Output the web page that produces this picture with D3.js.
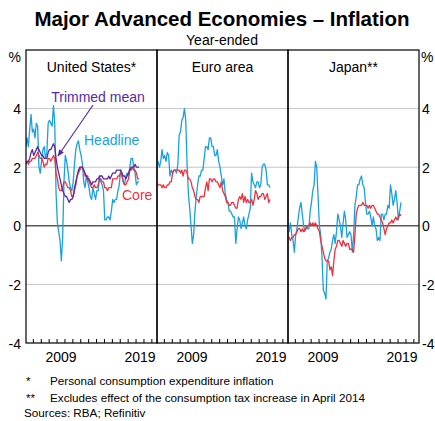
<!DOCTYPE html>
<html>
<head>
<meta charset="utf-8">
<script src="https://cdn.jsdelivr.net/npm/d3@7"></script>
<style>
  body { margin: 0; background: #fff; }
  svg text { font-family: Arial, "Liberation Sans", sans-serif; }
</style>
</head>
<body>
<svg id="chart" width="435" height="421"></svg>
<script>
// year-ended inflation, %, bimonthly obs (Jan, Mar, May, Jul, Sep, Nov), Jan 2005 - May 2019
var startYear = 2005;
var obsPerYear = 6;

var usHeadline = [
  2.7, 3.0, 2.7, 3.3, 3.8, 3.2,
  3.3, 3.0, 3.5, 3.4, 2.0, 1.8,
  2.2, 2.6, 2.7, 2.3, 2.5, 3.5,
  3.6, 3.5, 3.4, 4.1, 3.5, 1.1,
  0.1, -0.2, -0.5, -1.2, -0.4, 1.5,
  2.4, 2.2, 1.9, 1.5, 1.3, 1.2,
  1.5, 2.1, 2.6, 2.8, 2.9, 2.6,
  2.4, 2.1, 1.5, 1.3, 1.7, 1.5,
  1.3, 1.0, 0.9, 1.3, 1.1, 0.9,
  1.2, 1.2, 1.7, 1.5, 1.4, 1.2,
  0.2, 0.2, 0.3, 0.3, 0.2, 0.5,
  0.9, 0.8, 0.9, 0.9, 1.2, 1.4,
  1.9, 1.8, 1.5, 1.4, 1.7, 1.8,
  1.7, 2.0, 2.3, 2.3, 2.0, 1.8,
  1.4, 1.5, 1.5
];
var usCore = [
  2.1, 2.2, 2.1, 2.2, 2.2, 2.3,
  2.3, 2.3, 2.4, 2.5, 2.4, 2.3,
  2.3, 2.2, 2.0, 2.1, 2.1, 2.3,
  2.3, 2.2, 2.3, 2.4, 2.3, 1.8,
  1.6, 1.3, 1.2, 1.2, 1.3, 1.5,
  1.5, 1.4, 1.3, 1.3, 1.2, 1.0,
  1.0, 1.2, 1.4, 1.7, 1.8, 1.9,
  2.0, 2.0, 1.9, 1.7, 1.7, 1.7,
  1.5, 1.4, 1.3, 1.3, 1.4, 1.3,
  1.3, 1.4, 1.6, 1.6, 1.5, 1.5,
  1.3, 1.3, 1.2, 1.3, 1.3, 1.3,
  1.6, 1.6, 1.6, 1.6, 1.7, 1.7,
  1.8, 1.7, 1.5, 1.4, 1.4, 1.5,
  1.6, 1.9, 1.9, 2.0, 1.9, 1.9,
  1.8, 1.6, 1.6
];
var usTrimmed = [
  2.1, 2.2, 2.2, 2.3, 2.5, 2.6,
  2.4, 2.5, 2.6, 2.7, 2.6, 2.5,
  2.4, 2.4, 2.3, 2.3, 2.3, 2.5,
  2.6, 2.6, 2.7, 2.8, 2.7, 2.3,
  2.0, 1.8, 1.6, 1.4, 1.2, 1.1,
  1.0, 1.0, 0.9, 0.8, 0.9, 0.9,
  1.0, 1.3, 1.5, 1.7, 1.9, 2.0,
  2.0, 2.0, 1.9, 1.8, 1.7, 1.6,
  1.6, 1.5, 1.4, 1.5, 1.5, 1.5,
  1.6, 1.6, 1.7, 1.7, 1.7, 1.6,
  1.6, 1.6, 1.6, 1.7, 1.6, 1.7,
  1.8, 1.8, 1.8, 1.9, 1.9, 1.9,
  1.9, 1.8, 1.7, 1.7, 1.6, 1.7,
  1.8, 1.9, 2.0, 2.0, 2.0, 2.1,
  2.0, 2.0, 2.0
];
var euroHeadline = [
  2.0, 2.2, 2.0, 2.2, 2.6, 2.3,
  2.4, 2.2, 2.5, 2.4, 1.7, 1.9,
  1.8, 1.9, 1.9, 1.8, 2.1, 3.1,
  3.2, 3.6, 3.7, 4.0, 3.6, 2.1,
  1.1, 0.6, 0.0, -0.6, -0.3, 0.5,
  1.0, 1.4, 1.7, 1.7, 1.9, 1.9,
  2.3, 2.7, 2.7, 2.6, 3.0, 3.0,
  2.7, 2.7, 2.4, 2.4, 2.6, 2.2,
  2.0, 1.7, 1.4, 1.6, 1.1, 0.9,
  0.8, 0.5, 0.5, 0.4, 0.3, 0.3,
  -0.6, -0.1, 0.3, 0.2, -0.1, 0.1,
  0.3, 0.0, -0.1, 0.2, 0.4, 0.6,
  1.8, 1.5, 1.4, 1.3, 1.5, 1.5,
  1.3, 1.4, 2.0, 2.1, 2.1, 1.9,
  1.4, 1.4, 1.3
];
var euroCore = [
  1.5, 1.4, 1.4, 1.4, 1.3, 1.4,
  1.3, 1.3, 1.4, 1.4, 1.5, 1.5,
  1.8, 1.9, 1.9, 1.9, 1.9, 1.9,
  1.8, 1.9, 1.7, 1.9, 1.9, 1.8,
  1.6, 1.6, 1.5, 1.3, 1.2, 1.0,
  0.9, 0.9, 0.8, 1.0, 1.0, 1.0,
  1.0, 1.3, 1.5, 1.2, 1.6, 1.6,
  1.5, 1.6, 1.6, 1.5, 1.5, 1.4,
  1.3, 1.5, 1.2, 1.1, 1.0, 0.8,
  0.8, 0.7, 0.7, 0.8, 0.8, 0.7,
  0.6, 0.6, 0.9, 1.0, 0.9, 1.1,
  0.8, 1.0, 0.8, 0.9, 0.8, 0.8,
  0.9, 0.7, 0.9, 1.2, 1.1, 0.9,
  1.0, 1.0, 1.1, 1.1, 0.9, 1.0,
  1.1, 0.8, 0.9
];
var japanHeadline = [
  0.0, -0.2, 0.1, -0.3, -0.5, -0.9,
  -0.3, -0.1, 0.3, 0.6, 0.8, 0.4,
  0.0, -0.2, 0.0, -0.1, -0.1, 0.5,
  0.8, 1.2, 1.4, 2.2, 2.0, 1.0,
  0.0, -0.3, -1.1, -2.2, -2.3, -2.5,
  -1.2, -1.1, -0.9, -0.8, -0.5, -0.3,
  -0.6, -0.2, 0.4, 0.2, 0.0, -0.4,
  0.1, 0.5, 0.2, -0.4, -0.3, -0.2,
  -0.3, -0.9, -0.3, 0.7, 1.0, 1.4,
  1.4, 1.6, 1.7, 1.4, 1.3, 0.8,
  0.4, 0.4, 0.5, 0.3, 0.0, 0.3,
  0.0, -0.1, -0.5, -0.4, -0.5, 0.4,
  0.4, 0.2, 0.4, 0.4, 0.7, 0.6,
  1.4, 1.1, 0.7, 0.9, 1.2, 0.8,
  0.2, 0.5, 0.8
];
var japanCore = [
  -0.3, -0.4, -0.5, -0.4, -0.4, -0.3,
  -0.3, -0.2, -0.1, -0.1, -0.2, -0.1,
  -0.2, -0.1, -0.1, 0.0, 0.0, 0.1,
  0.0, 0.1, 0.0, 0.1, 0.0, -0.1,
  -0.2, -0.5, -0.7, -0.9, -1.1, -1.2,
  -1.2, -1.2, -1.5, -1.4, -1.7, -1.2,
  -0.8, -0.7, -0.5, -0.5, -0.6, -0.7,
  -0.5, -0.6, -0.7, -0.6, -0.6, -0.8,
  -0.8, -0.8, -0.9, -0.3, 0.4, 0.6,
  0.7, 0.7, 0.7, 0.8, 0.7, 0.7,
  0.7, 0.6, 0.7, 0.6, 0.7, 0.7,
  0.6, 0.5, 0.4, 0.4, 0.3, 0.2,
  0.1, -0.1, -0.3, -0.1, 0.0, 0.1,
  0.1, 0.2, 0.1, 0.2, 0.3, 0.2,
  0.3, 0.4, 0.35
];

var panelNames = ["United States*", "Euro area", "Japan**"];
var yTicks = [-4, -2, 0, 2, 4];
var yearLabels = [2009, 2019];
var footnotes = [
  ["*", "Personal consumption expenditure inflation"],
  ["**", "Excludes effect of the consumption tax increase in April 2014"]
];
var sourceText = "Sources: RBA; Refinitiv";

var colors = { headline: "#18a2df", core: "#f0303e", trimmed: "#5a2aa3" };

var panels = [
  { name: panelNames[0], series: [
      { key: "headline", values: usHeadline },
      { key: "core", values: usCore },
      { key: "trimmed", values: usTrimmed } ] },
  { name: panelNames[1], series: [
      { key: "headline", values: euroHeadline },
      { key: "core", values: euroCore } ] },
  { name: panelNames[2], series: [
      { key: "headline", values: japanHeadline },
      { key: "core", values: japanCore } ] }
];

// layout (plot frame in page pixels)
var plotL = 26, plotR = 419, plotT = 50, plotB = 343;
var panelW = (plotR - plotL) / panels.length;

var svg = d3.select("#chart");

var y = d3.scaleLinear().domain([-4, 6]).range([plotB, plotT]);
var x = d3.scaleLinear().domain([2005.07, 2021.65]).range([0, panelW]);

function obsDate(i) {
  // middle of Jan, Mar, May ...
  return startYear + Math.floor(i / obsPerYear) + (i % obsPerYear) * 2 / 12 + 0.5 / 12;
}

var defs = svg.append("defs");
defs.append("clipPath").attr("id", "panelClip")
  .append("rect").attr("x", 0).attr("y", plotT).attr("width", panelW).attr("height", plotB - plotT);

defs.append("marker")
  .attr("id", "arrowHead")
  .attr("viewBox", "0 0 10 10")
  .attr("refX", 9).attr("refY", 5)
  .attr("markerWidth", 7).attr("markerHeight", 7)
  .attr("markerUnits", "userSpaceOnUse")
  .attr("orient", "auto")
  .append("path").attr("d", "M0,1 L10,5 L0,9 Z").attr("fill", colors.trimmed);

// title
svg.append("text").attr("x", 222).attr("y", 26)
  .attr("text-anchor", "middle").attr("font-size", 20.5).attr("font-weight", "bold")
  .text("Major Advanced Economies \u2013 Inflation");
svg.append("text").attr("x", 222).attr("y", 45)
  .attr("text-anchor", "middle").attr("font-size", 14)
  .text("Year-ended");

// gridlines across whole plot
svg.selectAll(".grid").data(yTicks.filter(function(d){ return d !== 0 && d !== -4; }))
  .enter().append("line").attr("class", "grid")
  .attr("x1", plotL).attr("x2", plotR)
  .attr("y1", function(d){ return y(d); }).attr("y2", function(d){ return y(d); })
  .attr("stroke", "#c4c4c4").attr("stroke-width", 1);

var line = d3.line()
  .x(function(d){ return x(d.t); })
  .y(function(d){ return y(d.v); });

panels.forEach(function(p, k) {
  var g = svg.append("g").attr("transform", "translate(" + (plotL + k * panelW) + ",0)");

  // zero line
  g.append("line").attr("x1", 0).attr("x2", panelW)
    .attr("y1", y(0)).attr("y2", y(0))
    .attr("stroke", "#5a5a5a").attr("stroke-width", 1.4);

  var lines = g.append("g").attr("clip-path", "url(#panelClip)");
  p.series.forEach(function(s) {
    var pts = s.values.map(function(v, i){ return { t: obsDate(i), v: v }; });
    lines.append("path").datum(pts)
      .attr("d", line)
      .attr("fill", "none")
      .attr("stroke", colors[s.key])
      .attr("stroke-width", 1.3)
      .attr("stroke-linejoin", "round");
  });

  // year ticks along the bottom
  var years = d3.range(2006, 2022);
  g.selectAll(".xtick").data(years).enter().append("line")
    .attr("x1", function(d){ return x(d); }).attr("x2", function(d){ return x(d); })
    .attr("y1", plotB).attr("y2", plotB - 4)
    .attr("stroke", "#000").attr("stroke-width", 1);

  g.selectAll(".xlab").data(yearLabels).enter().append("text")
    .attr("x", function(d){ return x(d + 0.5); })
    .attr("y", 362)
    .attr("text-anchor", "middle").attr("font-size", 14)
    .text(function(d){ return d; });

  g.append("text").attr("x", panelW / 2).attr("y", 71.5)
    .attr("text-anchor", "middle").attr("font-size", 14)
    .text(p.name);

  // panel frame
  g.append("rect").attr("x", 0).attr("y", plotT).attr("width", panelW).attr("height", plotB - plotT)
    .attr("fill", "none").attr("stroke", "#000").attr("stroke-width", 1.2);
});

// y axis labels, both sides
svg.selectAll(".ylabL").data(yTicks).enter().append("text")
  .attr("x", 21).attr("y", function(d){ return y(d) + 5.5; })
  .attr("text-anchor", "end").attr("font-size", 14)
  .text(function(d){ return d; });
svg.selectAll(".ylabR").data(yTicks).enter().append("text")
  .attr("x", 422).attr("y", function(d){ return y(d) + 5.5; })
  .attr("text-anchor", "start").attr("font-size", 14)
  .text(function(d){ return d; });
svg.append("text").attr("x", 21).attr("y", 62).attr("text-anchor", "end").attr("font-size", 14).text("%");
svg.append("text").attr("x", 421).attr("y", 62).attr("text-anchor", "start").attr("font-size", 14).text("%");

// series labels in the US panel
svg.append("text").attr("x", 98).attr("y", 102).attr("text-anchor", "middle")
  .attr("font-size", 14).attr("fill", colors.trimmed).text("Trimmed mean");
svg.append("line").attr("x1", 93).attr("y1", 105).attr("x2", 58).attr("y2", 156)
  .attr("stroke", colors.trimmed).attr("stroke-width", 1.2)
  .attr("marker-end", "url(#arrowHead)");
svg.append("text").attr("x", 84).attr("y", 145)
  .attr("font-size", 14).attr("fill", colors.headline).text("Headline");
svg.append("text").attr("x", 122).attr("y", 200)
  .attr("font-size", 14).attr("fill", colors.core).text("Core");

// footnotes
footnotes.forEach(function(f, i) {
  var yy = 385 + i * 17;
  svg.append("text").attr("x", 26).attr("y", yy).attr("font-size", 11.7).text(f[0]);
  svg.append("text").attr("x", 50).attr("y", yy).attr("font-size", 11.7).text(f[1]);
});
svg.append("text").attr("x", 24).attr("y", 417).attr("font-size", 11.7).text(sourceText);
</script>
</body>
</html>
